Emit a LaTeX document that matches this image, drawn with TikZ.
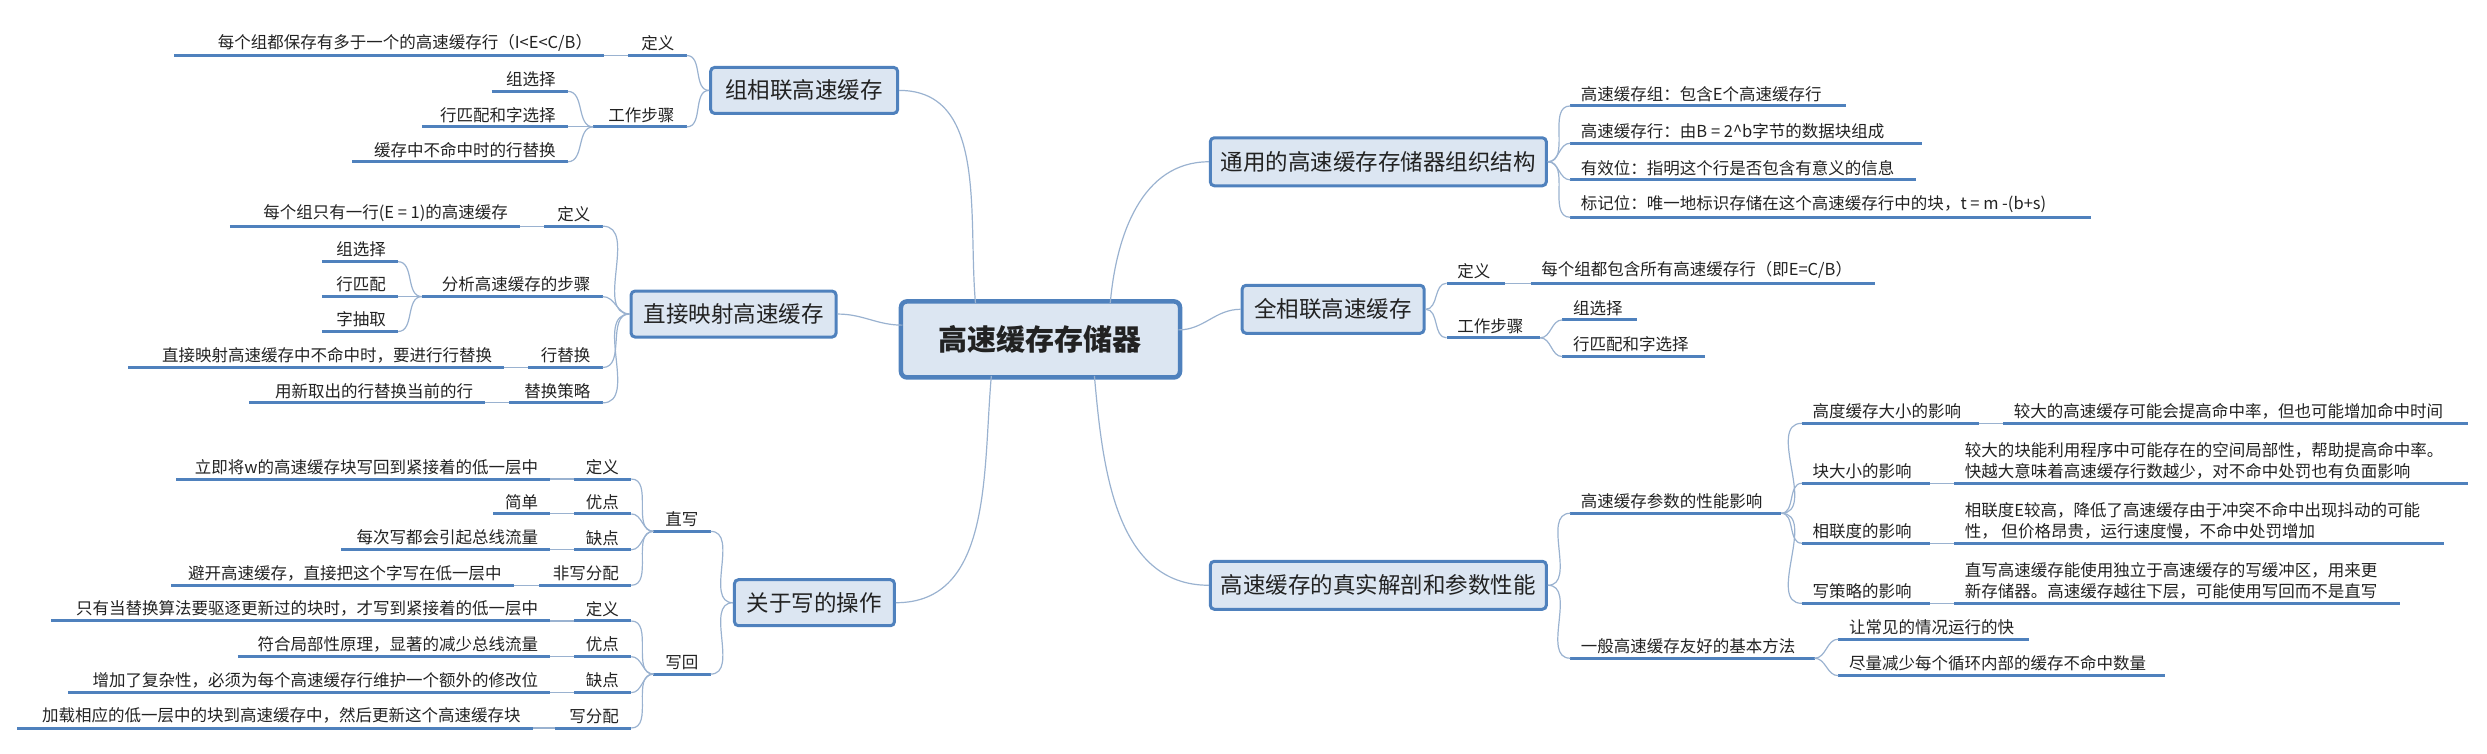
\documentclass[tikz,border=0pt]{standalone}
\usepackage{fontspec}
\setmainfont{Noto Sans CJK SC}
\definecolor{ln}{HTML}{4F81BD}
\definecolor{cn}{HTML}{9AB2D0}
\definecolor{bf}{HTML}{DCE6F2}
\definecolor{tx}{HTML}{222222}
\newcommand\Lt[5]{\coordinate (#1-l) at (#2,#4); \coordinate (#1-r) at (#3,#4);
  \node[txt,anchor=south east] (#1) at (#3-7,#4-2) {#5}; \draw[uline] (#1-l) -- (#1-r);}
\newcommand\Rt[5]{\coordinate (#1-l) at (#2,#4); \coordinate (#1-r) at (#3,#4);
  \node[txt,anchor=south west] (#1) at (#2+6,#4-2) {#5}; \draw[uline] (#1-l) -- (#1-r);}
\begin{document}
\begin{tikzpicture}[x=1.586pt,y=-1.586pt,
  txt/.style={inner sep=1pt,text=tx,font=\fontsize{16.5}{21}\selectfont,align=left},
  uline/.style={draw=ln,line width=3pt},
  conn/.style={draw=cn,line width=1.2pt},
  box/.style={draw=ln,fill=bf,line width=3pt,rounded corners=4pt,text=tx,
    font=\fontsize{22.5}{26}\selectfont,minimum height=46pt,inner sep=2pt},
  rootbox/.style={draw=ln,fill=bf,line width=4.5pt,rounded corners=6pt,text=tx,
    font=\fontsize{29}{33}\bfseries\selectfont,minimum width=279pt,minimum height=76pt}]
\useasboundingbox (0,0) rectangle (1568,475);
% root
\node[rootbox] (R) at (656,214) {高速缓存存储器};
\coordinate (rA) at (615,191); \coordinate (rB) at (569,205); \coordinate (rC) at (625,237);
\coordinate (rD) at (700,191); \coordinate (rE) at (743,208); \coordinate (rF) at (690,237);
% ---------- 组相联
\node[box,minimum width=187pt] (G) at (507,57) {组相联高速缓存};
\Lt{A1}{396}{433}{35}{定义}
\Lt{A1L}{110}{381}{35}{每个组都保存有多于一个的高速缓存行（I<E<C/B）}
\Lt{A2}{374}{433}{80}{工作步骤}
\Lt{A21}{310}{358}{57.6}{组选择}
\Lt{A22}{266}{358}{80}{行匹配和字选择}
\Lt{A23}{222}{358}{102}{缓存中不命中时的行替换}
\draw[conn] (G.west) to[out=180,in=0] (A1-r);
\draw[conn] (G.west) to[out=180,in=0] (A2-r);
\draw[conn] (A1-l) -- (A1L-r);
\foreach \c in {A21,A22,A23} \draw[conn] (A2-l) to[out=180,in=0] (\c-r);
% ---------- 直接映射
\node[box,minimum width=205pt] (B) at (462.5,198) {直接映射高速缓存};
\Lt{B1}{343}{380}{142.6}{定义}
\Lt{B1L}{145}{328}{142.6}{每个组只有一行(E = 1)的高速缓存}
\Lt{B2}{266}{380}{187}{分析高速缓存的步骤}
\Lt{B21}{203}{251}{165}{组选择}
\Lt{B22}{203}{251}{187}{行匹配}
\Lt{B23}{203}{251}{209}{字抽取}
\Lt{B3}{333}{380}{231.7}{行替换}
\Lt{B3L}{81}{318}{231.7}{直接映射高速缓存中不命中时，要进行行替换}
\Lt{B4}{321}{380}{254}{替换策略}
\Lt{B4L}{157}{306}{254}{用新取出的行替换当前的行}
\foreach \c in {B1,B2,B3,B4} \draw[conn] (B.west) to[out=180,in=0] (\c-r);
\foreach \c in {B21,B22,B23} \draw[conn] (B2-l) to[out=180,in=0] (\c-r);
\draw[conn] (B1-l) -- (B1L-r); \draw[conn] (B3-l) -- (B3L-r); \draw[conn] (B4-l) -- (B4L-r);
% ---------- 关于写的操作
\node[box,minimum width=160pt] (C) at (513.5,380) {关于写的操作};
\Lt{C1}{412}{448}{335}{直写}
\Lt{C2}{412}{448}{425}{写回}
\Lt{C11}{362}{398}{302}{定义}
\Lt{C11L}{111}{347}{302}{立即将w的高速缓存块写回到紧接着的低一层中}
\Lt{C12}{362}{398}{324}{优点}
\Lt{C12L}{311}{347}{324}{简单}
\Lt{C13}{362}{398}{346.6}{缺点}
\Lt{C13L}{215}{347}{346.6}{每次写都会引起总线流量}
\Lt{C14}{340}{398}{369}{非写分配}
\Lt{C14L}{108}{324}{369}{避开高速缓存，直接把这个字写在低一层中}
\Lt{C21}{362}{398}{391.5}{定义}
\Lt{C21L}{32}{347}{391.5}{只有当替换算法要驱逐更新过的块时，才写到紧接着的低一层中}
\Lt{C22}{362}{398}{414}{优点}
\Lt{C22L}{150}{347}{414}{符合局部性原理，显著的减少总线流量}
\Lt{C23}{362}{398}{436.7}{缺点}
\Lt{C23L}{43}{347}{436.7}{增加了复杂性，必须为每个高速缓存行维护一个额外的修改位}
\Lt{C24}{350}{398}{459}{写分配}
\Lt{C24L}{11}{336}{459}{加载相应的低一层中的块到高速缓存中，然后更新这个高速缓存块}
\foreach \c in {C1,C2} \draw[conn] (C.west) to[out=180,in=0] (\c-r);
\foreach \c in {C11,C12,C13,C14} {\draw[conn] (C1-l) to[out=180,in=0] (\c-r); \draw[conn] (\c-l) -- (\c L-r);}
\foreach \c in {C21,C22,C23,C24} {\draw[conn] (C2-l) to[out=180,in=0] (\c-r); \draw[conn] (\c-l) -- (\c L-r);}
% ---------- 通用
\node[box,minimum width=336pt,minimum height=48pt] (D) at (869,102) {通用的高速缓存存储器组织结构};
\Rt{D1}{990}{1164}{66.8}{高速缓存组：包含E个高速缓存行}
\Rt{D2}{990}{1212}{90.3}{高速缓存行：由B = 2\^{}b字节的数据块组成}
\Rt{D3}{990}{1208}{113.4}{有效位：指明这个行是否包含有意义的信息}
\Rt{D4}{990}{1318}{137}{标记位：唯一地标识存储在这个高速缓存行中的块，t = m -(b+s)}
\foreach \c in {D1,D2,D3,D4} \draw[conn] (D.east) to[out=0,in=180] (\c-l);
% ---------- 全相联
\node[box,minimum width=182pt,minimum height=48pt] (E) at (840.5,195) {全相联高速缓存};
\Rt{E1}{912}{949}{178.6}{定义}
\Rt{E1L}{965}{1182}{178.6}{每个组都包含所有高速缓存行（即E=C/B）}
\Rt{E2}{912}{971}{213}{工作步骤}
\Rt{E21}{985}{1032}{201.7}{组选择}
\Rt{E22}{985}{1075}{224.8}{行匹配和字选择}
\foreach \c in {E1,E2} \draw[conn] (E.east) to[out=0,in=180] (\c-l);
\draw[conn] (E1-r) -- (E1L-l);
\foreach \c in {E21,E22} \draw[conn] (E2-r) to[out=0,in=180] (\c-l);
% ---------- 真实解剖
\node[box,minimum width=336pt,minimum height=48pt] (F) at (869,369) {高速缓存的真实解剖和参数性能};
\Rt{F1}{990}{1123}{323.6}{高速缓存参数的性能影响}
\Rt{F2}{990}{1144}{415}{一般高速缓存友好的基本方法}
\Rt{F11}{1136}{1248}{266.9}{高度缓存大小的影响}
\Rt{F11L}{1263}{1556}{266.9}{较大的高速缓存可能会提高命中率，但也可能增加命中时间}
\Rt{F12}{1136}{1217}{304.7}{块大小的影响}
\Rt{F12L}{1232}{1556}{304.7}{较大的块能利用程序中可能存在的空间局部性，帮助提高命中率。\\快越大意味着高速缓存行数越少，对不命中处罚也有负面影响}
\Rt{F13}{1136}{1217}{342.5}{相联度的影响}
\Rt{F13L}{1232}{1541}{342.5}{相联度E较高，降低了高速缓存由于冲突不命中出现抖动的可能\\性， 但价格昂贵，运行速度慢，不命中处罚增加}
\Rt{F14}{1136}{1217}{380.4}{写策略的影响}
\Rt{F14L}{1232}{1513}{380.4}{直写高速缓存能使用独立于高速缓存的写缓冲区，用来更\\新存储器。高速缓存越往下层，可能使用写回而不是直写}
\Rt{F21}{1159}{1279}{403}{让常见的情况运行的快}
\Rt{F22}{1159}{1365}{426}{尽量减少每个循环内部的缓存不命中数量}
\foreach \c in {F1,F2} \draw[conn] (F.east) to[out=0,in=180] (\c-l);
\foreach \c in {F11,F12,F13,F14} {\draw[conn] (F1-r) to[out=0,in=180] (\c-l); \draw[conn] (\c-r) -- (\c L-l);}
\foreach \c in {F21,F22} \draw[conn] (F2-r) to[out=0,in=180] (\c-l);
% ---------- root links
\draw[conn] (G.east) to[out=0,in=95] (rA);
\draw[conn] (B.east) to[out=0,in=180] (rB);
\draw[conn] (C.east) to[out=0,in=-95] (rC);
\draw[conn] (rD) to[out=85,in=180] (D.west);
\draw[conn] (rE) to[out=0,in=180] (E.west);
\draw[conn] (rF) to[out=-85,in=180] (F.west);
\end{tikzpicture}
\end{document}
